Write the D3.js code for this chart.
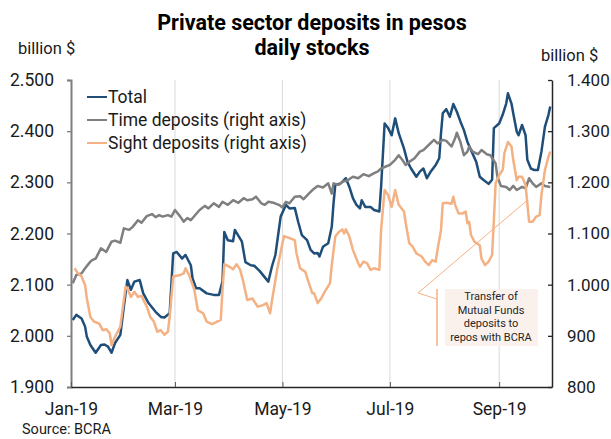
<!DOCTYPE html>
<html>
<head>
<meta charset="utf-8">
<script src="https://cdn.jsdelivr.net/npm/d3@7"></script>
<style>
  html, body { margin: 0; padding: 0; background: #fff; }
  svg { display: block; font-family: Roboto, "Noto Sans", Arial, sans-serif; }
</style>
</head>
<body>
<svg id="chart" width="611" height="439"></svg>
<script>
// Private sector peso deposits, daily stocks (billion $)
const totalDates = [
  "2019-01-02","2019-01-04","2019-01-07","2019-01-09","2019-01-10","2019-01-12","2019-01-15","2019-01-18","2019-01-20","2019-01-22",
  "2019-01-24","2019-01-26","2019-01-29","2019-01-31","2019-02-02","2019-02-04","2019-02-06","2019-02-09","2019-02-11","2019-02-14",
  "2019-02-18","2019-02-21","2019-02-23","2019-02-26","2019-02-28","2019-03-02","2019-03-05","2019-03-07","2019-03-10","2019-03-11",
  "2019-03-13","2019-03-15","2019-03-19","2019-03-23","2019-03-26","2019-03-28","2019-03-29","2019-03-31","2019-04-03","2019-04-04",
  "2019-04-08","2019-04-10","2019-04-13","2019-04-15","2019-04-18","2019-04-23","2019-04-25","2019-04-27","2019-04-30","2019-05-03",
  "2019-05-05","2019-05-08","2019-05-10","2019-05-12","2019-05-15","2019-05-17","2019-05-19","2019-05-21","2019-05-22","2019-05-24",
  "2019-05-27","2019-05-29","2019-05-30","2019-05-31","2019-06-03","2019-06-04","2019-06-06","2019-06-08","2019-06-10","2019-06-12",
  "2019-06-14","2019-06-15","2019-06-17","2019-06-20","2019-06-22","2019-06-25","2019-06-26","2019-06-28","2019-06-30","2019-07-02",
  "2019-07-04","2019-07-06","2019-07-09","2019-07-11","2019-07-13","2019-07-16","2019-07-18","2019-07-20","2019-07-22","2019-07-24",
  "2019-07-27","2019-07-29","2019-07-30","2019-07-31","2019-08-02","2019-08-04","2019-08-06","2019-08-08","2019-08-10","2019-08-12",
  "2019-08-14","2019-08-16","2019-08-19","2019-08-21","2019-08-23","2019-08-26","2019-08-28","2019-08-29","2019-08-31","2019-09-01",
  "2019-09-03","2019-09-05","2019-09-06","2019-09-08","2019-09-09","2019-09-11","2019-09-12","2019-09-14","2019-09-16","2019-09-17",
  "2019-09-19","2019-09-21","2019-09-23","2019-09-25","2019-09-27","2019-09-29","2019-09-30"
];
const totalValues = [
  2031, 2041, 2034, 2018, 1998, 1982, 1967, 1982, 1983, 1979,
  1967, 1986, 2002, 2057, 2109, 2090, 2106, 2109, 2083, 2064,
  2047, 2037, 2036, 2044, 2161, 2164, 2151, 2158, 2138, 2112,
  2093, 2093, 2083, 2080, 2080, 2107, 2203, 2187, 2185, 2207,
  2184, 2144, 2138, 2137, 2127, 2106, 2135, 2158, 2233, 2256,
  2249, 2250, 2222, 2197, 2187, 2168, 2161, 2162, 2155, 2174,
  2181, 2213, 2259, 2295, 2298, 2301, 2308, 2291, 2269, 2256,
  2249, 2265, 2252, 2252, 2246, 2243, 2291, 2415, 2406, 2392,
  2425, 2396, 2366, 2340, 2327, 2311, 2321, 2327, 2308, 2320,
  2334, 2347, 2396, 2435, 2443, 2428, 2453, 2438, 2419, 2402,
  2379, 2363, 2340, 2311, 2305, 2297, 2305, 2406, 2412, 2415,
  2432, 2454, 2474, 2454, 2435, 2399, 2392, 2412, 2392, 2344,
  2327, 2324, 2324, 2360, 2409, 2432, 2448
];

const timeDates = [
  "2019-01-02","2019-01-04","2019-01-07","2019-01-09","2019-01-12","2019-01-13","2019-01-15","2019-01-18","2019-01-21","2019-01-24",
  "2019-01-26","2019-01-29","2019-01-31","2019-02-03","2019-02-05","2019-02-08","2019-02-10","2019-02-13","2019-02-16","2019-02-18",
  "2019-02-20","2019-02-22","2019-02-25","2019-02-27","2019-03-01","2019-03-04","2019-03-06","2019-03-08","2019-03-10","2019-03-13",
  "2019-03-15","2019-03-18","2019-03-20","2019-03-23","2019-03-26","2019-03-28","2019-03-31","2019-04-03","2019-04-06","2019-04-09",
  "2019-04-11","2019-04-14","2019-04-16","2019-04-19","2019-04-21","2019-04-23","2019-04-26","2019-04-29","2019-05-01","2019-05-03",
  "2019-05-05","2019-05-08","2019-05-11","2019-05-13","2019-05-16","2019-05-18","2019-05-21","2019-05-24","2019-05-27","2019-05-29",
  "2019-05-30","2019-06-02","2019-06-04","2019-06-07","2019-06-10","2019-06-13","2019-06-16","2019-06-19","2019-06-22","2019-06-24",
  "2019-06-26","2019-06-28","2019-07-01","2019-07-04","2019-07-06","2019-07-08","2019-07-10","2019-07-12","2019-07-15","2019-07-18",
  "2019-07-20","2019-07-23","2019-07-26","2019-07-28","2019-07-31","2019-08-02","2019-08-05","2019-08-07","2019-08-08","2019-08-10",
  "2019-08-12","2019-08-14","2019-08-15","2019-08-17","2019-08-20","2019-08-22","2019-08-25","2019-08-27","2019-08-30","2019-08-31",
  "2019-09-02","2019-09-05","2019-09-07","2019-09-09","2019-09-11","2019-09-14","2019-09-16","2019-09-18","2019-09-20","2019-09-22",
  "2019-09-25","2019-09-27","2019-09-30"
];
const timeValues = [
  1003, 1019, 1022, 1032, 1045, 1048, 1051, 1071, 1064, 1084,
  1086, 1082, 1110, 1107, 1113, 1126, 1121, 1134, 1138, 1132,
  1136, 1133, 1136, 1133, 1146, 1133, 1123, 1130, 1126, 1138,
  1146, 1154, 1149, 1159, 1152, 1162, 1156, 1165, 1160, 1169,
  1165, 1167, 1172, 1159, 1156, 1162, 1160, 1156, 1151, 1162,
  1159, 1172, 1173, 1167, 1178, 1185, 1193, 1190, 1198, 1178,
  1198, 1195, 1201, 1204, 1211, 1208, 1216, 1212, 1218, 1221,
  1227, 1230, 1234, 1244, 1253, 1244, 1234, 1240, 1247, 1260,
  1263, 1273, 1283, 1276, 1283, 1281, 1270, 1286, 1297, 1279,
  1253, 1260, 1270, 1260, 1255, 1263, 1255, 1253, 1237, 1211,
  1193, 1191, 1185, 1193, 1185, 1191, 1188, 1208, 1198, 1191,
  1198, 1193, 1191
];

const sightDates = [
  "2019-01-03","2019-01-05","2019-01-07","2019-01-09","2019-01-10","2019-01-12","2019-01-14","2019-01-17","2019-01-19","2019-01-21",
  "2019-01-23","2019-01-24","2019-01-26","2019-01-29","2019-01-30","2019-02-01","2019-02-02","2019-02-04","2019-02-06","2019-02-08",
  "2019-02-10","2019-02-13","2019-02-15","2019-02-17","2019-02-19","2019-02-21","2019-02-23","2019-02-25","2019-02-26","2019-02-28",
  "2019-03-04","2019-03-06","2019-03-07","2019-03-09","2019-03-12","2019-03-14","2019-03-17","2019-03-19","2019-03-22","2019-03-25",
  "2019-03-27","2019-03-28","2019-03-29","2019-04-01","2019-04-03","2019-04-05","2019-04-07","2019-04-09","2019-04-11","2019-04-14",
  "2019-04-15","2019-04-17","2019-04-20","2019-04-22","2019-04-24","2019-04-25","2019-04-28","2019-05-01","2019-05-02","2019-05-05",
  "2019-05-08","2019-05-09","2019-05-11","2019-05-14","2019-05-16","2019-05-18","2019-05-19","2019-05-21","2019-05-23","2019-05-25",
  "2019-05-28","2019-05-29","2019-05-31","2019-06-02","2019-06-04","2019-06-05","2019-06-06","2019-06-08","2019-06-10","2019-06-13",
  "2019-06-14","2019-06-16","2019-06-18","2019-06-20","2019-06-22","2019-06-25","2019-06-26","2019-06-28","2019-06-30","2019-07-02",
  "2019-07-04","2019-07-06","2019-07-09","2019-07-10","2019-07-12","2019-07-14","2019-07-16","2019-07-19","2019-07-21","2019-07-23",
  "2019-07-25","2019-07-27","2019-07-28","2019-07-30","2019-07-31","2019-08-02","2019-08-05","2019-08-06","2019-08-07","2019-08-09",
  "2019-08-11","2019-08-13","2019-08-14","2019-08-15","2019-08-16","2019-08-18","2019-08-21","2019-08-22","2019-08-24","2019-08-26",
  "2019-08-28","2019-08-29","2019-08-30","2019-09-01","2019-09-03","2019-09-04","2019-09-06","2019-09-08","2019-09-09","2019-09-11",
  "2019-09-12","2019-09-14","2019-09-16","2019-09-17","2019-09-18","2019-09-20","2019-09-22","2019-09-24","2019-09-25","2019-09-27",
  "2019-09-29","2019-09-30"
];
const sightValues = [
  1032, 1022, 1016, 999, 973, 937, 928, 924, 911, 913,
  905, 882, 898, 918, 944, 996, 993, 976, 986, 976,
  978, 957, 937, 928, 908, 911, 902, 908, 937, 1016,
  1019, 1022, 1032, 1019, 990, 950, 944, 928, 923, 928,
  931, 990, 1040, 1035, 1030, 1040, 1029, 1003, 970, 973,
  967, 957, 960, 964, 944, 967, 1029, 1081, 1095, 1091,
  1087, 1061, 1032, 1025, 1003, 983, 983, 964, 973, 986,
  1003, 1038, 1094, 1103, 1108, 1100, 1108, 1094, 1068, 1042,
  1035, 1045, 1042, 1029, 1032, 1029, 1107, 1185, 1175, 1152,
  1185, 1156, 1143, 1120, 1081, 1074, 1061, 1055, 1045, 1038,
  1048, 1045, 1068, 1107, 1159, 1160, 1158, 1172, 1156, 1139,
  1139, 1143, 1120, 1123, 1097, 1084, 1077, 1051, 1038, 1045,
  1058, 1126, 1198, 1214, 1224, 1257, 1279, 1270, 1244, 1204,
  1211, 1211, 1195, 1159, 1123, 1123, 1133, 1136, 1175, 1224,
  1250, 1260
];

const leftTicks = [1900, 2000, 2100, 2200, 2300, 2400, 2500];
const rightTicks = [800, 900, 1000, 1100, 1200, 1300, 1400];
const monthTicks = ["2019-01-01", "2019-03-01", "2019-05-01", "2019-07-01", "2019-09-01"];
const seriesNames = ["Total", "Time deposits (right axis)", "Sight deposits (right axis)"];
const seriesColors = ["#1f4e79", "#7f7f7f", "#f4b183"];
const noteLines = ["Transfer of", "Mutual Funds", "deposits to", "repos with BCRA"];

const parse = d3.timeParse("%Y-%m-%d");
const svg = d3.select("#chart");

const m = { left: 71, right: 552, top: 80, bottom: 387 };
const x = d3.scaleTime().domain([parse("2019-01-01"), parse("2019-10-01")]).range([m.left, m.right]);
const yL = d3.scaleLinear().domain([1900, 2500]).range([m.bottom, m.top]);
const yR = d3.scaleLinear().domain([800, 1400]).range([m.bottom, m.top]);
const thousands = d => d3.format(",")(d).replace(/,/g, ".");

// vertical gridlines at every other month
svg.append("g").selectAll("line").data(monthTicks.slice(1).map(parse)).join("line")
  .attr("x1", d => x(d)).attr("x2", d => x(d))
  .attr("y1", m.top).attr("y2", m.bottom)
  .attr("stroke", "#d9d9d9").attr("stroke-width", 1);

// axes
const axisText = (g, size) => g.selectAll("text").attr("fill", "#1a1a1a").style("font-size", size)
  .style("font-family", "Roboto, sans-serif");

const gL = svg.append("g").attr("transform", `translate(${m.left},0)`)
  .call(d3.axisLeft(yL).tickValues(leftTicks).tickFormat(thousands).tickSize(4).tickPadding(13));
gL.select(".domain").attr("stroke", "#7f7f7f").attr("stroke-width", 2);
gL.selectAll(".tick line").attr("stroke", "#7f7f7f").attr("stroke-width", 1.3);
axisText(gL, "17.5px");

const gR = svg.append("g").attr("transform", `translate(${m.right},0)`)
  .call(d3.axisRight(yR).tickValues(rightTicks).tickFormat(thousands).tickSizeInner(-4).tickSizeOuter(0).tickPadding(15));
gR.select(".domain").attr("stroke", "#262626").attr("stroke-width", 1.5);
gR.selectAll(".tick line").attr("stroke", "#262626").attr("stroke-width", 1.3);
axisText(gR, "17px");

const gB = svg.append("g").attr("transform", `translate(0,${m.bottom})`)
  .call(d3.axisBottom(x).tickValues(monthTicks.map(parse)).tickFormat(d3.timeFormat("%b-%y"))
    .tickSizeInner(-5).tickSizeOuter(0).tickPadding(16));
gB.select(".domain").attr("stroke", "#262626").attr("stroke-width", 1.5);
gB.selectAll(".tick line").attr("stroke", "#595959");
axisText(gB, "17.5px");

// series lines
const lineL = d3.line().x(d => x(d[0])).y(d => yL(d[1])).curve(d3.curveLinear);
const lineR = d3.line().x(d => x(d[0])).y(d => yR(d[1])).curve(d3.curveLinear);
const totalData = d3.zip(totalDates.map(parse), totalValues);
const timeData = d3.zip(timeDates.map(parse), timeValues);
const sightData = d3.zip(sightDates.map(parse), sightValues);

svg.append("path").datum(totalData).attr("d", lineL)
  .attr("fill", "none").attr("stroke", seriesColors[0]).attr("stroke-width", 2.5).attr("stroke-linejoin", "round");
svg.append("path").datum(timeData).attr("d", lineR)
  .attr("fill", "none").attr("stroke", seriesColors[1]).attr("stroke-width", 2.5).attr("stroke-linejoin", "round");
svg.append("path").datum(sightData).attr("d", lineR)
  .attr("fill", "none").attr("stroke", seriesColors[2]).attr("stroke-width", 2.5).attr("stroke-linejoin", "round");

// legend
const lg = svg.append("g").attr("transform", "translate(87,97)");
seriesNames.forEach((name, i) => {
  const row = lg.append("g").attr("transform", `translate(0,${i * 23})`);
  row.append("line").attr("x1", 0).attr("x2", 20).attr("y1", 0).attr("y2", 0)
    .attr("stroke", seriesColors[i]).attr("stroke-width", 2);
  row.append("text").attr("x", 21).attr("y", 0).attr("dy", "0.35em")
    .style("font-size", "17.5px").attr("fill", "#1a1a1a").text(name);
});

// titles and unit labels
svg.append("text").attr("x", 312).attr("y", 30).attr("text-anchor", "middle")
  .style("font-size", "21.5px").style("font-weight", "bold").attr("fill", "#000")
  .text("Private sector deposits in pesos");
svg.append("text").attr("x", 312).attr("y", 55).attr("text-anchor", "middle")
  .style("font-size", "21.5px").style("font-weight", "bold").attr("fill", "#000")
  .text("daily stocks");
svg.append("text").attr("x", 18).attr("y", 54).style("font-size", "16.5px").attr("fill", "#1a1a1a").text("billion $");
svg.append("text").attr("x", 541).attr("y", 61).style("font-size", "16.5px").attr("fill", "#1a1a1a").text("billion $");
svg.append("text").attr("x", 22).attr("y", 434).style("font-size", "14.5px").attr("fill", "#1a1a1a").text("Source: BCRA");

// annotation: callout box with leader line to the sight-deposit drop
const note = svg.append("g");
note.append("rect").attr("x", 445).attr("y", 289).attr("width", 93).attr("height", 57).attr("fill", "#fbf1ec");
note.append("line").attr("x1", 437).attr("x2", 437).attr("y1", 289).attr("y2", 346)
  .attr("stroke", "#f4b183").attr("stroke-width", 1.5);
note.append("polyline")
  .attr("points", [[437, 299], [418, 293], [x(parse("2019-09-17")), yR(1165)]].map(p => p.join(",")).join(" "))
  .attr("fill", "none").attr("stroke", "#f4b183").attr("stroke-width", 1);
note.append("text").attr("text-anchor", "middle").attr("fill", "#262626").style("font-size", "11px")
  .selectAll("tspan").data(noteLines).join("tspan")
  .attr("x", 491).attr("y", (d, i) => 300 + i * 13.5).text(d => d);
</script>
</body>
</html>
